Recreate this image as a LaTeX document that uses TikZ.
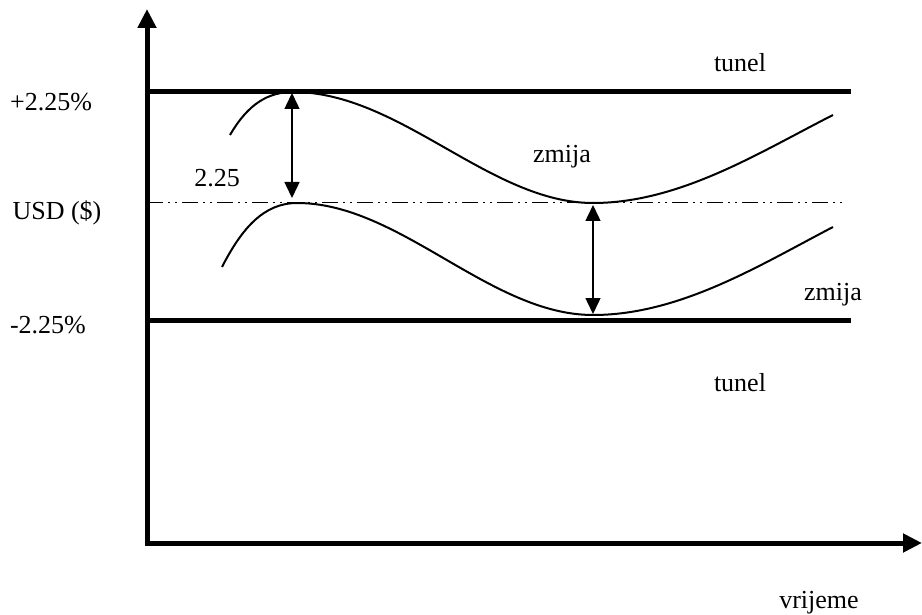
\documentclass[tikz,border=0pt]{standalone}
\usepackage{fontspec}
\setmainfont{Liberation Serif}
\usetikzlibrary{arrows.meta}
\begin{document}
\begin{tikzpicture}[x=1pt, y=-1pt]
% Snake in the tunnel, drawn on a 922x615 pixel grid
\def\axisLineWidth{5pt}
\providecommand{\bandLineWidth}{5pt}
\providecommand{\snakeLineWidth}{2pt}
\providecommand{\spanLineWidth}{1.5pt}
\useasboundingbox (0,0) rectangle (922,615);
\begin{scope}[line cap=butt, line join=miter]
  % Axes
  \coordinate (origin) at (147,543);
  \coordinate (ytip) at (147,9);
  \coordinate (xtip) at (922,543);
  \draw[line width=\axisLineWidth, {Triangle[width=18pt,length=19pt]}-{Triangle[width=18pt,length=19pt]}] (ytip) -- (origin) -- (xtip);
  % Tunnel bounds
  \begin{scope}[line width=\bandLineWidth]
    \draw (147,92) -- (851,92);
    \draw (147,320) -- (851,320);
  \end{scope}
  % Central rate
  \draw[line width=1pt, dash pattern=on 16pt off 5pt on 2pt off 5pt on 2pt off 5pt] (147,203) -- (845,203);
  % Snake bounds
  \begin{scope}[line width=\snakeLineWidth]
    \draw (230,135) .. controls (248,104) and (268,92) .. (293,92)
      .. controls (400,92) and (490,203) .. (593,203)
      .. controls (680,203) and (760,152) .. (833,115);
    \draw (222,267) .. controls (242,228) and (264,203) .. (297,203)
      .. controls (400,203) and (490,315) .. (593,315)
      .. controls (680,315) and (760,265) .. (833,227);
  \end{scope}
  % Spans
  \coordinate (spanAtop) at (292,93);
  \coordinate (spanAbot) at (292,198);
  \coordinate (spanBtop) at (593,205);
  \coordinate (spanBbot) at (593,314);
  \begin{scope}[line width=\spanLineWidth, {Triangle[width=15pt,length=16pt]}-{Triangle[width=15pt,length=16pt]}]
    \draw (spanAtop) -- (spanAbot);
    \draw (spanBtop) -- (spanBbot);
  \end{scope}
\end{scope}
% Labels
\begin{scope}[font=\fontsize{26}{31}\selectfont]
  \node (upper) at (51,102) {+2.25\%};
  \node (usd) at (57,213) {USD (\$)};
  \node (lower) at (48,325) {-2.25\%};
  \node (width) at (217,178) {2.25};
  \node (tunelTop) at (740,63) {tunel};
  \node (zmijaTop) at (562,157) {zmija};
  \node (zmijaBot) at (833,295) {zmija};
  \node (tunelBot) at (740,383) {tunel};
  \node (time) at (819,603) {vrijeme};
\end{scope}
\end{tikzpicture}
\end{document}
